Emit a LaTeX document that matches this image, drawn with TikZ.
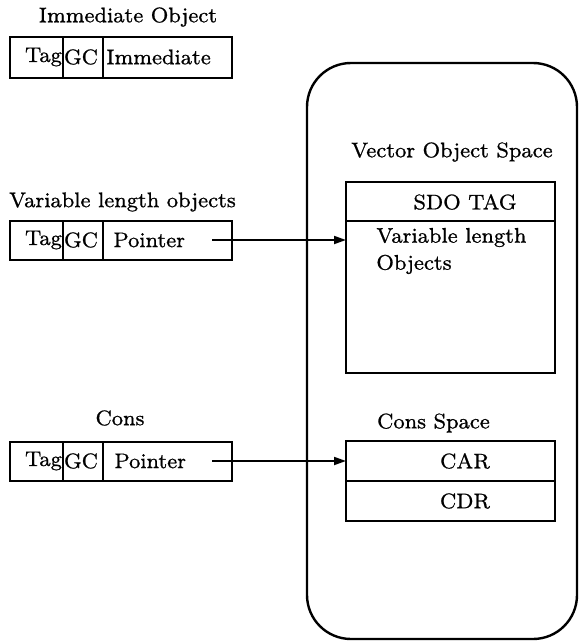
\documentclass[tikz,border=0pt]{standalone}
\usepackage{fontspec}
\setmainfont{lmroman8-regular.otf}[FakeBold=0.8]
\usetikzlibrary{arrows.meta}
\begin{document}
\begin{tikzpicture}[x=0.5pt,y=-0.5pt,
  cell/.style={draw,line width=1.2pt,inner sep=0pt,outer sep=0pt,anchor=north west},
  txt/.style={inner sep=0pt,font=\fontsize{10.6}{13.5}\selectfont},
  ptr/.style={line width=0.9pt,-{Triangle[length=6pt,width=4pt]}}]
\useasboundingbox (0,0) rectangle (578,642);

% memory space outline
\draw[line width=1.2pt,rounded corners=22pt] (307,63) rectangle (577,639);

% immediate object word
\node[txt] (immlabel) at (128,17) {Immediate Object};
\node[cell,minimum width=26.5pt,minimum height=20.5pt] (itag) at (10,37) {};
\node[cell,minimum width=20pt,minimum height=20.5pt] (igc) at (63,37) {};
\node[cell,minimum width=64.5pt,minimum height=20.5pt] (ival) at (103,37) {};
\node[txt] (itagt) at (43.5,57) {Tag};
\node[txt] (igct) at (81,57) {GC};
\node[txt,anchor=west] (ivalt) at (106,57) {Immediate};

% variable length object word
\node[txt] (varlabel) at (122.5,202) {Variable length objects};
\node[cell,minimum width=26.5pt,minimum height=19.5pt] (vtag) at (10,221) {};
\node[cell,minimum width=20pt,minimum height=19.5pt] (vgc) at (63,221) {};
\node[cell,minimum width=64.5pt,minimum height=19.5pt] (vval) at (103,221) {};
\node[txt] (vtagt) at (43.5,240) {Tag};
\node[txt] (vgct) at (81,240) {GC};
\node[txt,anchor=west] (vvalt) at (113,240) {Pointer};
\coordinate (vptr) at (212,240);

% cons word
\node[txt] (conslabel) at (120,418) {Cons};
\node[cell,minimum width=26.5pt,minimum height=19.5pt] (ctag) at (10,442) {};
\node[cell,minimum width=20pt,minimum height=19.5pt] (cgc) at (63,442) {};
\node[cell,minimum width=64.5pt,minimum height=19.5pt] (cval) at (103,442) {};
\node[txt] (ctagt) at (43.5,461) {Tag};
\node[txt] (cgct) at (81,461) {GC};
\node[txt,anchor=west] (cvalt) at (114,461) {Pointer};
\coordinate (cptr) at (212,461);

% vector object space
\node[txt] (vecspace) at (452,152) {Vector Object Space};
\node[cell,minimum width=104.5pt,minimum height=19.5pt] (sdo) at (346,182) {};
\node[cell,minimum width=104.5pt,minimum height=76pt] (vbody) at (346,221) {};
\node[txt] (sdot) at (465,202) {SDO TAG};
\node[txt,anchor=west,align=left] (vbodyt) at (376,251) {Variable length\\Objects};

% cons space
\node[txt] (consspace) at (433.5,423) {Cons Space};
\node[cell,minimum width=104.5pt,minimum height=20pt] (car) at (346,441) {};
\node[cell,minimum width=104.5pt,minimum height=20pt] (cdr) at (346,481) {};
\node[txt] (cart) at (465,461) {CAR};
\node[txt] (cdrt) at (465,501) {CDR};

% pointers
\draw[ptr] (vptr) -- (vptr -| vbody.west);
\draw[ptr] (cptr) -- (cptr -| car.west);
\end{tikzpicture}
\end{document}
